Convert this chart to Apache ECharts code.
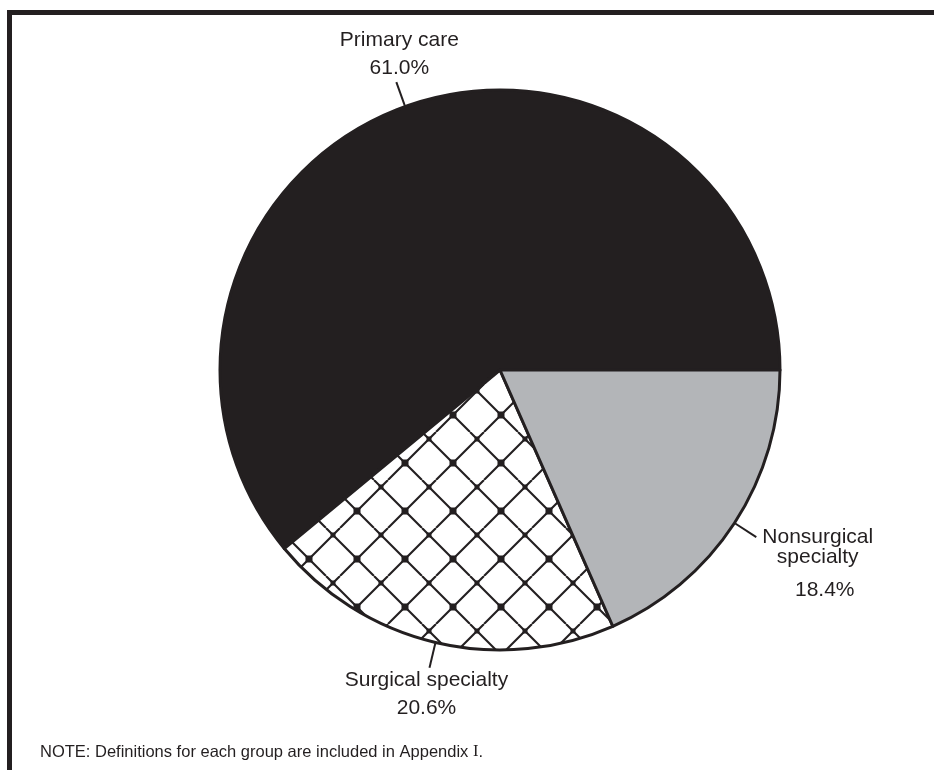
<!DOCTYPE html>
<html><head><meta charset="utf-8">
<script src="https://cdn.jsdelivr.net/npm/echarts@6/dist/echarts.min.js"></script>
<style>html,body{margin:0;padding:0;background:#fff}#c{width:934px;height:770px}</style>
</head><body><div id="c"></div>
<script>
// ---- data ----
const categories = ['Primary care', 'Surgical specialty', 'Nonsurgical\nspecialty'];
const values = [61.0, 20.6, 18.4];
const noteText = 'NOTE: Definitions for each group are included in Appendix ';
const noteNumeral = 'I';

// ---- styles ----
const INK = '#231f20';
const GRAY = '#b3b5b8';
const FONT = '"Liberation Sans", Arial, Helvetica, sans-serif';

function makeCrossHatch() {
  const s = 48;
  const cv = document.createElement('canvas');
  cv.width = s; cv.height = s;
  const g = cv.getContext('2d');
  g.fillStyle = '#fff';
  g.fillRect(0, 0, s, s);
  g.strokeStyle = INK;
  g.lineWidth = 2.1;
  g.beginPath();
  for (let k = -3; k <= 3; k++) {
    const a = 38 + 48 * k;
    g.moveTo(a, 0); g.lineTo(a + 48, 48);
    const b = 4 + 48 * k;
    g.moveTo(b, 0); g.lineTo(b - 48, 48);
  }
  g.stroke();
  g.fillStyle = INK;
  for (let m = -4; m <= 4; m++) {
    for (let n = -4; n <= 4; n++) {
      if ((m + n) % 2 !== 0) continue;
      const x = 21 + 24 * m, y = 31 + 24 * n;
      const big = (m % 2 === 0);
      const d = big ? 7 : 5;
      g.fillRect(x - d / 2, y - d / 2, d, d);
    }
  }
  return cv;
}

const fills = [INK, { image: makeCrossHatch(), repeat: 'repeat' }, GRAY];

const baseRich = {
  a: { fontSize: 21, fontFamily: FONT, color: INK, lineHeight: 28, align: 'center' },
  p: { fontSize: 21, fontFamily: FONT, color: INK, lineHeight: 28, align: 'center' }
};
const nsRich = {
  a: { fontSize: 21, fontFamily: FONT, color: INK, lineHeight: 20, align: 'center' },
  p: { fontSize: 21, fontFamily: FONT, color: INK, lineHeight: 46, align: 'center', padding: [0, 0, 0, 14] }
};

function labelText(i) {
  const lines = categories[i].split('\n').map(t => '{a|' + t + '}');
  return lines.join('\n') + '\n{p|' + values[i].toFixed(1) + '%}';
}

const data = categories.map((name, i) => ({
  name: name,
  value: values[i],
  itemStyle: { color: fills[i] },
  label: { formatter: labelText(i), rich: i === 2 ? nsRich : baseRich }
}));

const chart = echarts.init(document.getElementById('c'), null, { renderer: 'canvas' });
chart.setOption({
  animation: false,
  backgroundColor: '#fff',
  title: {
    text: '{a|' + noteText + '}{s|' + noteNumeral + '}{a|.}',
    left: 40,
    top: 742,
    padding: 0,
    textStyle: {
      fontWeight: 'normal',
      rich: {
        a: { fontSize: 16.5, fontWeight: 'normal', fontFamily: FONT, color: INK, lineHeight: 20 },
        s: { fontSize: 16.5, fontWeight: 'normal', fontFamily: '"Liberation Serif", "Times New Roman", serif', color: INK, lineHeight: 20 }
      }
    }
  },
  graphic: [
    { type: 'rect', shape: { x: 7, y: 10, width: 940, height: 5 }, style: { fill: INK }, silent: true },
    { type: 'rect', shape: { x: 7, y: 10, width: 5, height: 770 }, style: { fill: INK }, silent: true }
  ],
  series: [{
    type: 'pie',
    center: [500, 370],
    radius: [0, 280],
    startAngle: 0,
    clockwise: false,
    avoidLabelOverlap: false,
    silent: true,
    itemStyle: { borderColor: INK, borderWidth: 3 },
    emphasis: { disabled: true },
    label: { show: true, position: 'outside', color: INK },
    labelLine: {
      show: true, length: 26, length2: 0.001, smooth: false,
      minTurnAngle: 0, maxSurfaceAngle: 180,
      lineStyle: { color: INK, width: 2 }
    },
    labelLayout: function (p) {
      const pts = p.labelLinePoints;
      if (!pts) return {};
      const e = pts[1];
      const line = [[pts[0][0], pts[0][1]], [pts[1][0], pts[1][1]]];
      if (p.dataIndex === 0) return { x: e[0] + 3, y: e[1], align: 'center', verticalAlign: 'bottom', labelLinePoints: line };
      if (p.dataIndex === 1) return { x: e[0] - 3, y: e[1] - 2, align: 'center', verticalAlign: 'top', labelLinePoints: line };
      return { x: e[0] + 6, y: e[1] - 10, align: 'left', verticalAlign: 'top', labelLinePoints: line };
    },
    data: data
  }]
});
</script>
</body></html>
